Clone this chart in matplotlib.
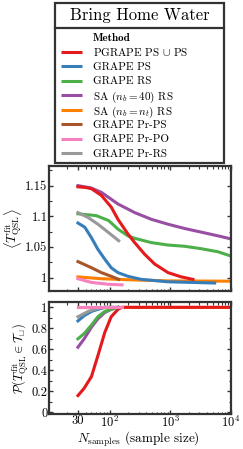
import matplotlib
matplotlib.use("Agg")
import matplotlib.pyplot as plt
from matplotlib.lines import Line2D
from matplotlib.patches import Rectangle
from matplotlib.ticker import AutoMinorLocator, FixedLocator, FixedFormatter

plt.rcParams['font.family'] = 'serif'
plt.rcParams['font.serif'] = ['cmr10', 'DejaVu Serif']
plt.rcParams['mathtext.fontset'] = 'cm'
plt.rcParams['axes.unicode_minus'] = False

# ---- data ----
methods = [r"PGRAPE PS $\cup$ PS", "GRAPE PS", "GRAPE RS", r"SA ($n_b = 40$) RS",
           r"SA ($n_b = n_t$) RS", "GRAPE Pr-PS", "GRAPE Pr-PO", "GRAPE Pr-RS"]
colors = ['#e41a1c', '#377eb8', '#4daf4a', '#984ea3',
          '#ff7f00', '#a65628', '#f781bf', '#999999']

# mean T_QSL^fit vs sample size
n_red = [30, 40, 50, 73, 106, 137, 200, 258, 377, 552, 916, 1517, 2360]
t_red = [1.148, 1.147, 1.145, 1.134, 1.115, 1.095, 1.071, 1.057, 1.038, 1.022, 1.008, 1.001, 0.997]
n_blue = [30, 39, 50, 64, 83, 106, 137, 200, 333, 916, 5380]
t_blue = [1.089, 1.082, 1.065, 1.046, 1.030, 1.016, 1.008, 1.002, 0.997, 0.993, 0.991]
n_green = [30, 60, 96, 137, 200, 258, 486, 916, 1723, 3245, 6110, 10000]
t_green = [1.104, 1.101, 1.093, 1.079, 1.068, 1.064, 1.057, 1.053, 1.051, 1.047, 1.042, 1.035]
n_purple = [30, 50, 73, 137, 258, 486, 916, 1723, 3245, 6110, 10000]
t_purple = [1.150, 1.146, 1.139, 1.120, 1.106, 1.095, 1.087, 1.080, 1.074, 1.068, 1.063]
n_orange = [30, 73, 258, 916, 10000]
t_orange = [1.001, 0.998, 0.996, 0.9945, 0.994]
n_brown = [30, 50, 73, 106, 141]
t_brown = [1.026, 1.016, 1.008, 1.002, 0.997]
n_pink = [30, 50, 94, 160]
t_pink = [0.998, 0.992, 0.989, 0.988]
n_gray = [30, 44, 64, 94, 141]
t_gray = [1.106, 1.098, 1.087, 1.074, 1.060]

# probability that T_QSL^fit lies in the interval
pn_red = [30, 38, 50, 64, 83, 106, 137, 160, 10000]
p_red = [0.16, 0.23, 0.34, 0.54, 0.76, 0.91, 0.98, 1.0, 1.0]
pn_purple = [30, 38, 50, 64, 83, 106, 137]
p_purple = [0.62, 0.70, 0.81, 0.89, 0.95, 0.98, 1.0]
pn_green = [30, 38, 50, 64, 83, 106, 137]
p_green = [0.70, 0.75, 0.83, 0.91, 0.96, 0.98, 1.0]
pn_blue = [30, 38, 50, 64, 83]
p_blue = [0.87, 0.92, 0.96, 0.98, 1.0]
pn_gray = [30, 44, 64, 94, 141]
p_gray = [0.91, 0.96, 0.99, 1.0, 1.0]
pn_brown = [30, 141]
p_brown = [1.0, 1.0]
pn_pink = [30, 160]
p_pink = [1.0, 1.0]
pn_orange = [30, 10000]
p_orange = [1.0, 1.0]

top_series = [(n_red, t_red), (n_blue, t_blue), (n_green, t_green), (n_purple, t_purple),
              (n_orange, t_orange), (n_brown, t_brown), (n_pink, t_pink), (n_gray, t_gray)]
bot_series = [(pn_red, p_red), (pn_blue, p_blue), (pn_green, p_green), (pn_purple, p_purple),
              (pn_orange, p_orange), (pn_brown, p_brown), (pn_pink, p_pink), (pn_gray, p_gray)]
# drawing order (pink/gray on top in the lower panel, as in the picture)
top_order = [4, 6, 5, 1, 2, 3, 0, 7]
bot_order = [4, 0, 3, 2, 1, 5, 7, 6]

W, H = 243, 449
fig = plt.figure(figsize=(W / 100, H / 100), dpi=100)
spine_c = '#333333'
lw = 2.2


def style_axes(ax):
    ax.set_xscale('log')
    ax.set_xlim(10, 1e4)
    for s in ax.spines.values():
        s.set_linewidth(1.6)
        s.set_color(spine_c)
    ax.tick_params(which='both', direction='in', top=True, right=True,
                   color=spine_c, labelsize=9, pad=1.0)
    ax.tick_params(which='major', length=3, width=1.0)
    ax.tick_params(which='minor', length=1.8, width=0.8)
    ax.yaxis.set_minor_locator(AutoMinorLocator(2))


ax1 = fig.add_axes([49 / W, 1 - 291 / H, 182 / W, 125 / H])
for i in top_order:
    ax1.plot(top_series[i][0], top_series[i][1], color=colors[i], lw=lw)
style_axes(ax1)
ax1.set_ylim(0.978, 1.182)
ax1.yaxis.set_major_locator(FixedLocator([1.0, 1.05, 1.1, 1.15]))
ax1.yaxis.set_major_formatter(FixedFormatter(['1', '1.05', '1.1', '1.15']))
ax1.xaxis.set_major_locator(FixedLocator([30, 100, 1000, 10000]))
ax1.tick_params(axis='x', which='both', labelbottom=False)
ax1.set_ylabel(r'$\left\langle T^{\rm fit}_{\rm QSL}\right\rangle$', fontsize=9.5)
ax1.yaxis.label.set_va('center')
ax1.yaxis.set_label_coords((13 - 49) / 182, 0.5)

ax2 = fig.add_axes([49 / W, 1 - 414 / H, 182 / W, 112 / H])
for i in bot_order:
    ax2.plot(bot_series[i][0], bot_series[i][1], color=colors[i], lw=lw)
style_axes(ax2)
ax2.tick_params(axis='x', pad=0.5)
ax2.set_ylim(-0.015, 1.05)
ax2.yaxis.set_major_locator(FixedLocator([0, 0.2, 0.4, 0.6, 0.8, 1.0]))
ax2.yaxis.set_major_formatter(FixedFormatter(['0', '0.2', '0.4', '0.6', '0.8', '1']))
ax2.xaxis.set_major_locator(FixedLocator([30, 100, 1000, 10000]))
ax2.xaxis.set_major_formatter(FixedFormatter(['30', r'$10^2$', r'$10^3$', r'$10^4$']))
ax2.set_xlabel(r'$N_{\rm samples}$ (sample size)', fontsize=9.5)
ax2.xaxis.label.set_va('center')
ax2.xaxis.set_label_coords((138 - 49) / 182, -(439.5 - 414) / 112)
ax2.set_ylabel(r'$\mathcal{P}(T^{\rm fit}_{\rm QSL}\in\mathcal{T}_{\sqcup})$', fontsize=9)
ax2.yaxis.label.set_va('center')
ax2.yaxis.set_label_coords((21 - 49) / 182, 0.5)

# legend box with title strip
x0, x1 = 55 / W, 224 / W
ytop, ybot, ysep = 1 - 3 / H, 1 - 163 / H, 1 - 28 / H
fig.add_artist(Rectangle((x0, ybot), x1 - x0, ytop - ybot, transform=fig.transFigure,
                         fill=False, edgecolor=spine_c, lw=1.6))
fig.add_artist(Line2D([x0, x1], [ysep, ysep], transform=fig.transFigure,
                      color=spine_c, lw=1.6))
fig.text((x0 + x1) / 2, 1 - 15 / H, 'Bring Home Water', ha='center', va='center', fontsize=12)

fig.text(93 / W, 1 - 37 / H, 'Method', fontfamily='cmb10', fontsize=8,
         ha='left', va='center_baseline')
for i, (lab, c) in enumerate(zip(methods, colors)):
    yy = 1 - (51.5 + 14.5 * i) / H
    fig.add_artist(Line2D([61 / W, 82 / W], [yy, yy], transform=fig.transFigure,
                          color=c, lw=lw, solid_capstyle='butt'))
    fig.text(93 / W, yy, lab, fontsize=8, ha='left', va='center_baseline')

fig.savefig('out.png', dpi=100)
